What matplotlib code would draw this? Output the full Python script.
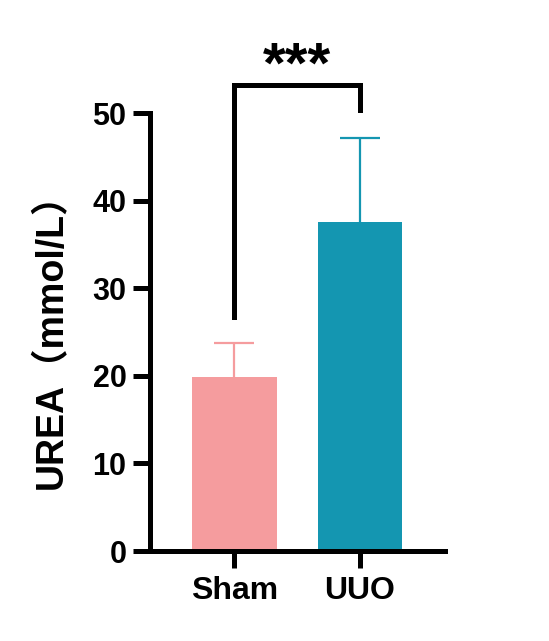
import matplotlib
matplotlib.use("Agg")
import matplotlib.pyplot as plt

categories = ["Sham", "UUO"]
means = [19.85, 37.6]
errors = [3.85, 9.6]
colors = ["#F59C9E", "#1496B1"]
yticks = [0, 10, 20, 30, 40, 50]
sig_label = "***"
bracket_y = 53.2
bracket_left_bottom = 26.7
bracket_right_bottom = 50.3

plt.rcParams['font.family'] = ['Liberation Sans', 'Noto Sans CJK SC', 'DejaVu Sans']
plt.rcParams['font.weight'] = 'bold'

fig = plt.figure(figsize=(5.49, 6.41), dpi=100)
ax = fig.add_axes([0.2732, 0.1404, 0.5374, 0.6833])

x = list(range(len(categories)))
for i in x:
    ax.bar(i, means[i], width=0.67, color=colors[i], linewidth=0, zorder=2)
    _, caps, _ = ax.errorbar(i, means[i], yerr=[[0], [errors[i]]], fmt='none',
                             ecolor=colors[i], elinewidth=1.6, capsize=14.5,
                             capthick=1.6, zorder=1)
    # keep only the upper cap
    if len(caps) > 1:
        caps[0].remove()

ax.set_xlim(-0.673, 1.677)
ax.set_ylim(0, 50)
ax.set_yticks(yticks)
ax.set_xticks(x)
ax.set_xticklabels(categories)

for s in ['top', 'right']:
    ax.spines[s].set_visible(False)
for s in ['left', 'bottom']:
    ax.spines[s].set_linewidth(3.6)

ax.tick_params(axis='both', width=3.6, length=12, direction='out')
ax.tick_params(axis='y', pad=5, labelsize=22)
ax.tick_params(axis='x', pad=6, labelsize=23)
for lab in ax.get_xticklabels() + ax.get_yticklabels():
    lab.set_fontweight('bold')

ax.set_ylabel("UREA（mmol/L）", fontsize=27, fontweight='bold', labelpad=16)

ax.plot([0, 0, 1, 1], [bracket_left_bottom, bracket_y, bracket_y, bracket_right_bottom],
        color='black', lw=3.6, clip_on=False, solid_joinstyle='miter')
ax.text(0.5, 53.5, sig_label, ha='center', va='baseline', fontsize=42,
        fontweight='bold', clip_on=False)

fig.savefig("out.png", dpi=100)
